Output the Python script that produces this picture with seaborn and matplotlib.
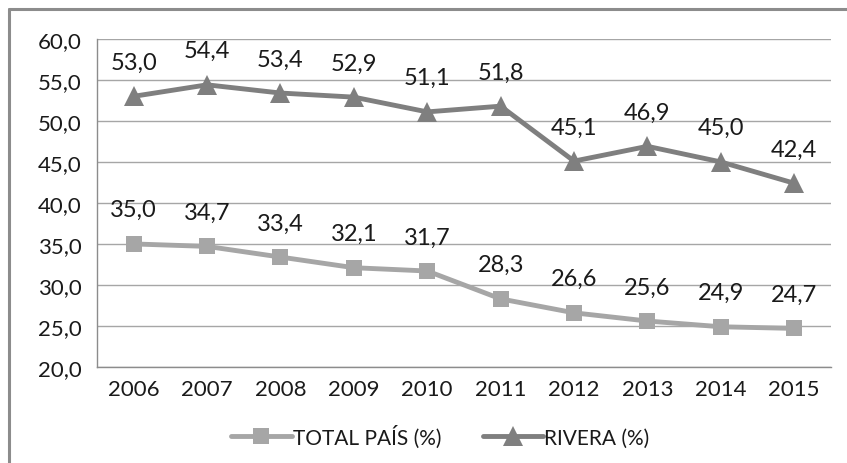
import pandas as pd
import numpy as np
import matplotlib
matplotlib.use("Agg")
import matplotlib.pyplot as plt
from matplotlib.lines import Line2D
import seaborn as sns

# -------------------------
#  Data
# -------------------------
years = ["2006", "2007", "2008", "2009", "2010", "2011", "2012", "2013", "2014", "2015"]
total_pais = [35.0, 34.7, 33.4, 32.1, 31.7, 28.3, 26.6, 25.6, 24.9, 24.7]
rivera = [53.0, 54.4, 53.4, 52.9, 51.1, 51.8, 45.1, 46.9, 45.0, 42.4]
series_names = ["TOTAL PAÍS (%)", "RIVERA (%)"]
y_ticks = [20, 25, 30, 35, 40, 45, 50, 55, 60]

df = pd.DataFrame({
    "year": years * 2,
    "value": total_pais + rivera,
    "serie": [series_names[0]] * len(years) + [series_names[1]] * len(years),
})

sns.set_style("white")
plt.rcParams["font.family"] = ["Lato", "DejaVu Sans"]

fig = plt.figure(figsize=(8.47, 4.64), dpi=100)
ax = fig.add_axes([0.1145, 0.207, 0.8665, 0.707])

colors = {series_names[0]: "#A6A6A6", series_names[1]: "#7F7F7F"}
sns.lineplot(data=df, x="year", y="value", hue="serie", style="serie",
             markers={series_names[0]: "s", series_names[1]: "^"},
             dashes=False, palette=colors, linewidth=3.5, markersize=12,
             markeredgewidth=0, ax=ax, sort=False)

# markers: triangle a bit larger
for line in ax.get_lines():
    if line.get_marker() == "^":
        line.set_markersize(15)

# data labels
for serie in (total_pais, rivera):
    for i, v in enumerate(serie):
        ax.annotate(f"{v:.1f}".replace(".", ","), (i, v), xytext=(0, 17),
                    textcoords="offset points", ha="center", va="bottom",
                    fontsize=17, color="#1a1a1a")

# axes styling
ax.set_xlim(-0.5, len(years) - 0.5)
ax.set_ylim(20, 60)
ax.set_yticks(y_ticks)
ax.set_yticklabels([f"{t:.1f}".replace(".", ",") for t in y_ticks])
ax.set_xticks(range(len(years)))
ax.set_xticklabels(years)
ax.set_xticks(np.arange(-0.5, len(years), 1), minor=True)
ax.tick_params(axis="x", which="major", length=0, pad=9, labelsize=16, colors="#1a1a1a")
ax.tick_params(axis="x", which="minor", length=6, color="#8c8c8c", width=1)
ax.tick_params(axis="y", which="major", length=6, color="#8c8c8c", width=1,
               pad=5, labelsize=16, labelcolor="#1a1a1a")
ax.grid(axis="y", color="#a6a6a6", linewidth=1)
ax.set_axisbelow(True)
for s in ["top", "right"]:
    ax.spines[s].set_visible(False)
for s in ["left", "bottom"]:
    ax.spines[s].set_color("#8c8c8c")
    ax.spines[s].set_linewidth(1)
ax.set_xlabel("")
ax.set_ylabel("")

# legend
handles, labels = ax.get_legend_handles_labels()
ax.get_legend().remove()
fig.legend(handles, labels, loc="center", bbox_to_anchor=(0.52, 0.058),
           ncol=2, frameon=False, fontsize=15, handlelength=2.9,
           handletextpad=0.05, columnspacing=2.0, labelcolor="#1a1a1a")

# chart frame (only left and top edges visible in the crop)
fig.add_artist(Line2D([9 / 847, 9 / 847], [0, 1 - 10 / 464], color="#8c8c8c", linewidth=2.2,
                      transform=fig.transFigure))
fig.add_artist(Line2D([9 / 847, 1], [1 - 10 / 464, 1 - 10 / 464], color="#8c8c8c", linewidth=2.2,
                      transform=fig.transFigure))

fig.savefig("out.png", dpi=100)
